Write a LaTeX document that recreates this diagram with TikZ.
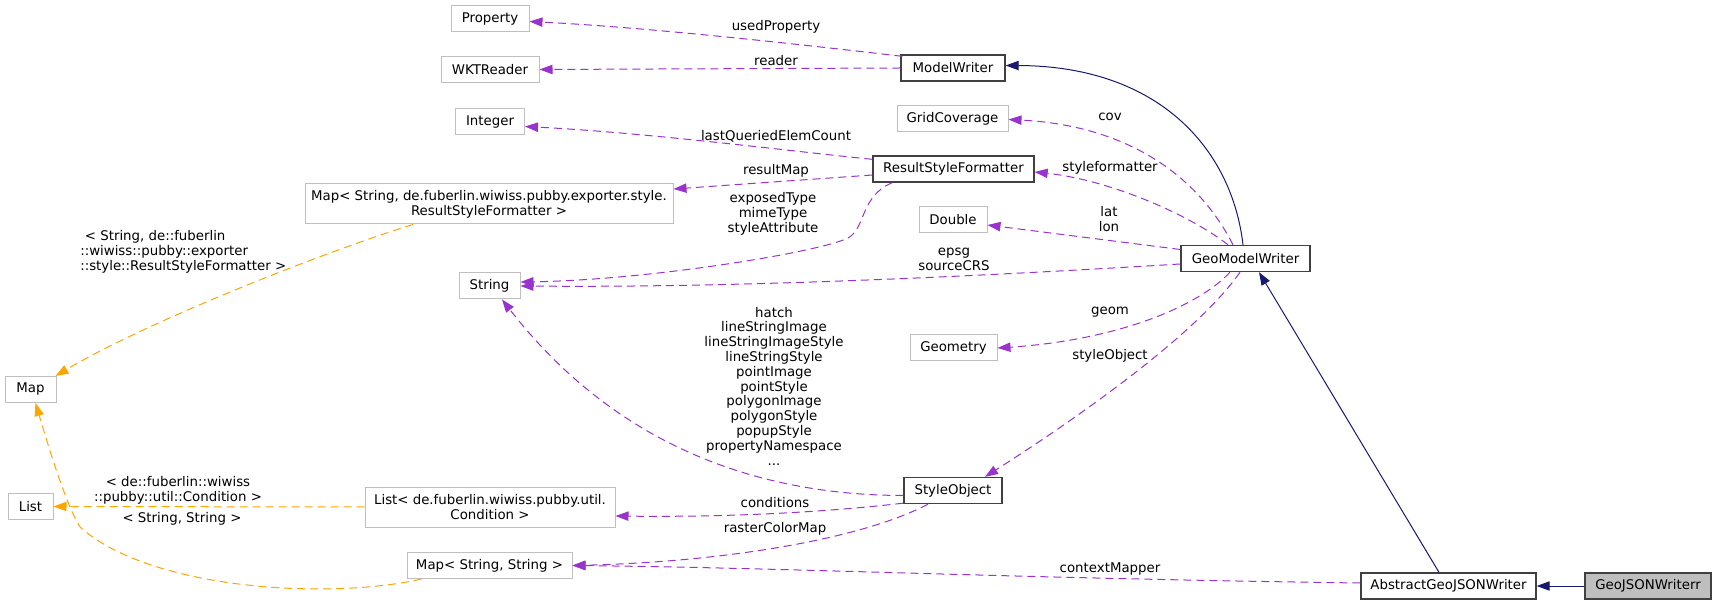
\documentclass[tikz,border=0pt]{standalone}
\usepackage{fontspec}
\setmainfont{DejaVu Sans}
\usetikzlibrary{arrows.meta,calc}
\definecolor{depc}{HTML}{9A32CD}
\definecolor{tmplc}{HTML}{FFA500}
\definecolor{inhc}{HTML}{191970}
\definecolor{greyc}{HTML}{BFBFBF}
\definecolor{docc}{HTML}{404040}
\begin{document}
\begin{tikzpicture}[x=0.75pt,y=-0.75pt,
  every node/.style={font=\fontsize{10}{11.1}\selectfont, inner sep=0pt},
  bw/.style={minimum width=#1*0.75pt},
  bh/.style={minimum height=#1*0.75pt},
  cls/.style={draw=greyc, line width=0.75pt, minimum height=19.5pt, fill=white},
  doc/.style={draw=docc, line width=1pt, minimum height=19.5pt, fill=white},
  lbl/.style={align=center},
  usage/.style={draw=depc, line width=0.75pt, dash pattern=on 6pt off 3.75pt,
    -{Triangle[length=9.75pt,width=7pt,fill=depc]}},
  tmpl/.style={draw=tmplc, line width=0.75pt, dash pattern=on 6pt off 3.75pt,
    -{Triangle[length=9.75pt,width=7pt,fill=tmplc]}},
  inherit/.style={draw=inhc, line width=0.75pt,
    -{Triangle[length=9.75pt,width=7pt,fill=inhc]}}]
\useasboundingbox (0,0) rectangle (1716,605);
% rank 2
\node[cls,bw=78] (prop) at (490,19) {Property};
\node[cls,bw=98] (wkt) at (490,69.5) {WKTReader};
\node[cls,bw=69] (integer) at (490,122) {Integer};
\node[cls,bw=368,bh=40,align=center] (maprsf) at (489,204) {Map< String, de.fuberlin.wiwiss.pubby.exporter.style.\\ResultStyleFormatter >};
\node[cls,bw=61] (string) at (489.5,286) {String};
\node[cls,bw=250,bh=40,align=center] (listc) at (490,507) {List< de.fuberlin.wiwiss.pubby.util.\\Condition >};
\node[cls,bw=165] (mapss) at (489.5,565.5) {Map< String, String >};
% rank 1
\node[cls,bw=51] (map) at (30.5,389.5) {Map};
\node[cls,bw=45] (list) at (30.5,506.5) {List};
% rank 3
\node[doc,bw=104] (mw) at (953,68) {ModelWriter};
\node[cls,bw=111] (gc) at (952.5,118.5) {GridCoverage};
\node[doc,bw=161] (rsf) at (953.5,169) {ResultStyleFormatter};
\node[cls,bw=68] (dbl) at (953,220) {Double};
\node[cls,bw=87] (geom) at (953.5,348) {Geometry};
\node[doc,bw=98] (so) at (953,490.5) {StyleObject};
% rank 4-6
\node[doc,bw=129] (gmw) at (1245.5,258.5) {GeoModelWriter};
\node[doc,bw=175] (agjw) at (1448.5,586) {AbstractGeoJSONWriter};
\node[doc,bw=126,fill=greyc] (gjw) at (1648,586) {GeoJSONWriterr};

% edges
\draw[usage] ($(mw.north west)+(2,2)$) .. controls (780,42) and (640,27) .. ($(prop.east)+(0,2.5)$);
\draw[usage] (mw.west) -- (wkt.east);
\draw[inherit] ($(gmw.north)+(-2.5,0)$) .. controls (1232,150) and (1160,66) .. ($(mw.east)+(0,-2.5)$);
\draw[usage] ($(rsf.north west)+(0,4)$) .. controls (780,150) and (650,133) .. ($(integer.east)+(0,4.5)$);
\draw[usage] ($(rsf.west)+(0,6)$) -- ($(maprsf.east)+(0,-15)$);
\draw[usage] ($(rsf.south west)+(20,0)$) .. controls (860,196) and (866,228) .. (848,238) .. controls (820,252) and (650,280) .. ($(string.east)+(0,-4)$);
\draw[usage] ($(gmw.north)+(-12.5,0)$) .. controls (1195,170) and (1120,125) .. ($(gc.east)+(0,1)$);
\draw[usage] ($(gmw.north)+(-17.5,0)$) .. controls (1190,215) and (1110,180) .. ($(rsf.east)+(0,3)$);
\draw[usage] ($(gmw.west)+(0,-9)$) -- ($(dbl.east)+(0,5)$);
\draw[usage] ($(gmw.west)+(0,5.5)$) .. controls (1000,275) and (750,288) .. (string.east);
\draw[usage] ($(gmw.south)+(-15.5,0)$) .. controls (1200,305) and (1120,340) .. (geom.east);
\draw[usage] ($(gmw.south)+(-5.5,0)$) .. controls (1200,330) and (1090,410) .. ($(so.north)+(32,0)$);
\draw[usage] ($(so.west)+(0,5)$) .. controls (700,495) and (580,400) .. ($(string.south)+(12.5,0)$);
\draw[usage] ($(so.south west)+(0,-1)$) .. controls (800,515) and (700,517) .. ($(listc.east)+(0,9)$);
\draw[usage] ($(so.south)+(-25,0)$) .. controls (860,540) and (720,562) .. (mapss.east);
\draw[usage] ($(agjw.west)+(0,-3)$) .. controls (1000,578) and (800,568) .. (mapss.east);
\draw[tmpl] ($(maprsf.south)+(-76,0)$) .. controls (330,250) and (150,320) .. ($(map.north east)+(-1,0)$);
\draw[tmpl] (listc.west) -- (list.east);
\draw[tmpl] ($(mapss.south west)+(15,0)$) .. controls (330,600) and (150,590) .. (80,527) .. controls (66,505) and (48,445) .. ($(map.south)+(5,0)$);
\draw[inherit] (gjw.west) -- (agjw.east);
\draw[inherit] ($(agjw.north)+(-9.5,0)$) -- ($(gmw.south)+(13.5,0)$);

% labels
\node[lbl] (l1) at (776,27) {usedProperty};
\node[lbl] (l2) at (776,61) {reader};
\node[lbl] (l3) at (776,136) {lastQueriedElemCount};
\node[lbl] (l4) at (776,171) {resultMap};
\node[lbl] (l5) at (773,214) {exposedType\\mimeType\\styleAttribute};
\node[lbl] (l6) at (1110,117) {cov};
\node[lbl] (l7) at (1110,168) {styleformatter};
\node[lbl] (l8) at (1109,219) {lat\\lon};
\node[lbl] (l9) at (954,259.5) {epsg\\sourceCRS};
\node[lbl] (l10) at (1110,312) {geom};
\node[lbl] (l11) at (1110,356) {styleObject};
\node[lbl] (l12) at (774,386) {hatch\\lineStringImage\\lineStringImageStyle\\lineStringStyle\\pointImage\\pointStyle\\polygonImage\\polygonStyle\\popupStyle\\propertyNamespace\\...};
\node[lbl] (l13) at (775,503) {conditions};
\node[lbl] (l14) at (775,529) {rasterColorMap};
\node[lbl] (l15) at (1110,569) {contextMapper};
\node[lbl,align=left,anchor=west] (l16) at (80,252) {\hspace*{3.5pt}< String, de::fuberlin\\::wiwiss::pubby::exporter\\::style::ResultStyleFormatter >};
\node[lbl] (l17) at (178,490.5) {< de::fuberlin::wiwiss\\::pubby::util::Condition >};
\node[lbl] (l18) at (182,518.5) {< String, String >};
\end{tikzpicture}
\end{document}
